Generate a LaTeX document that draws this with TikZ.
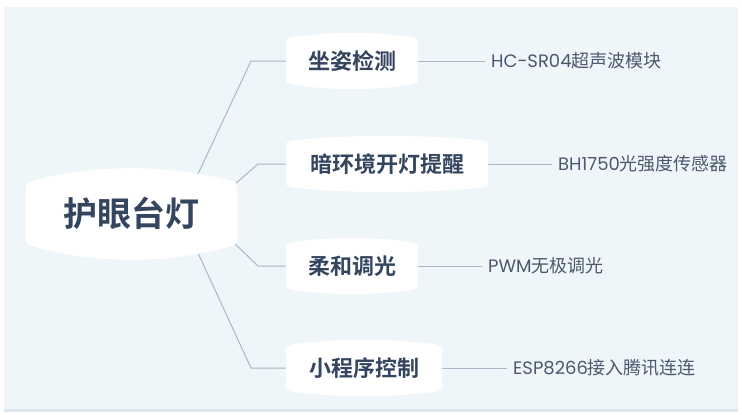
\documentclass[tikz,border=0pt]{standalone}
\usepackage{fontspec}
\newfontfamily\cjk[BoldFont={Noto Sans CJK SC Bold}]{Noto Sans CJK SC}
\newfontfamily\lat{Poppins}
\usetikzlibrary{calc,backgrounds}
\definecolor{bgcol}{HTML}{EEF6F9}
\definecolor{shadowcol}{HTML}{DFE6EC}
\definecolor{navy}{HTML}{34455F}
\definecolor{leafcol}{HTML}{4A5870}
\definecolor{linecol}{HTML}{A9B7C6}
\tikzset{
  hub/.style={inner sep=0pt, minimum width=211pt, minimum height=61pt, text=navy,
    font=\cjk\bfseries\fontsize{34}{34}\selectfont},
  branch/.style={inner sep=0pt, minimum height=43pt, text=navy,
    font=\cjk\bfseries\fontsize{22}{22}\selectfont},
  leaf/.style={anchor=west, inner xsep=6pt, inner ysep=0pt, text=leafcol,
    font=\cjk\fontsize{18}{18}\selectfont},
  conn/.style={draw=linecol, line width=1pt},
}
% #1 node, #2 top bulge, #3 bottom bulge, #4 corner
\newcommand\blobshape[4]{%
  \fill[white] let \p1=(#1.north west), \p2=(#1.south east), \n1={(\x2-\x1)/3} in
   (\x1,\y1-#4) -- (\x1,\y2+#4)
   .. controls (\x1,\y2) .. (\x1+#4,\y2-0.3*#4)
   .. controls (\x1+\n1*1pt,\y2-#3*4/3) and (\x2-\n1*1pt,\y2-#3*4/3) .. (\x2-#4,\y2-0.3*#4)
   .. controls (\x2,\y2) .. (\x2,\y2+#4)
   -- (\x2,\y1-#4)
   .. controls (\x2,\y1) .. (\x2-#4,\y1+0.3*#4)
   .. controls (\x2-\n1*1pt,\y1+#2*4/3) and (\x1+\n1*1pt,\y1+#2*4/3) .. (\x1+#4,\y1+0.3*#4)
   .. controls (\x1,\y1) .. cycle;}
\begin{document}
\begin{tikzpicture}[x=1pt,y=-1pt]
\useasboundingbox (0,0) rectangle (742,415);
% nodes
\node[hub] (c) at (131.5,213.5) {护眼台灯};
\node[branch, minimum width=132pt] (b1) at (352,61) {坐姿检测};
\node[branch, minimum width=202pt] (b2) at (387,164) {暗环境开灯提醒};
\node[branch, minimum width=132pt] (b3) at (352,266) {柔和调光};
\node[branch, minimum width=156pt] (b4) at (364,368) {小程序控制};
\node[leaf] (l1) at (485,61) {{\lat HC-SR04}超声波模块};
\node[leaf] (l2) at (552,164) {{\lat BH1750}光强度传感器};
\node[leaf] (l3) at (482,266) {{\lat PWM}无极调光};
\node[leaf] (l4) at (507,368) {{\lat ESP8266}接入腾讯连连};
% joints
\coordinate (s1) at (198,174);
\coordinate (k1) at (251,61);
\coordinate (s2) at (234,185);
\coordinate (k2) at (258,164);
\coordinate (s3) at (234,243);
\coordinate (k3) at (258,266);
\coordinate (s4) at (198,253);
\coordinate (k4) at (251,368);
\begin{scope}[on background layer]
  \fill[shadowcol] (4,407) rectangle (738,412);
  \fill[bgcol] (4,7) rectangle (738,409);
  \draw[conn] (s1) -- (k1) -- (b1.west);
  \draw[conn] (s2) -- (k2) -- (b2.west);
  \draw[conn] (s3) -- (k3) -- (b3.west);
  \draw[conn] (s4) -- (k4) -- (b4.west);
  \draw[conn] (b1.east) -- (l1.west);
  \draw[conn] (b2.east) -- (l2.west);
  \draw[conn] (b3.east) -- (l3.west);
  \draw[conn] (b4.east) -- (l4.west);
  \blobshape{c}{14pt}{15pt}{8pt}
  \blobshape{b1}{6pt}{6pt}{6pt}
  \blobshape{b2}{6pt}{6pt}{6pt}
  \blobshape{b3}{6pt}{6pt}{6pt}
  \blobshape{b4}{6pt}{6pt}{6pt}
\end{scope}
\end{tikzpicture}
\end{document}
